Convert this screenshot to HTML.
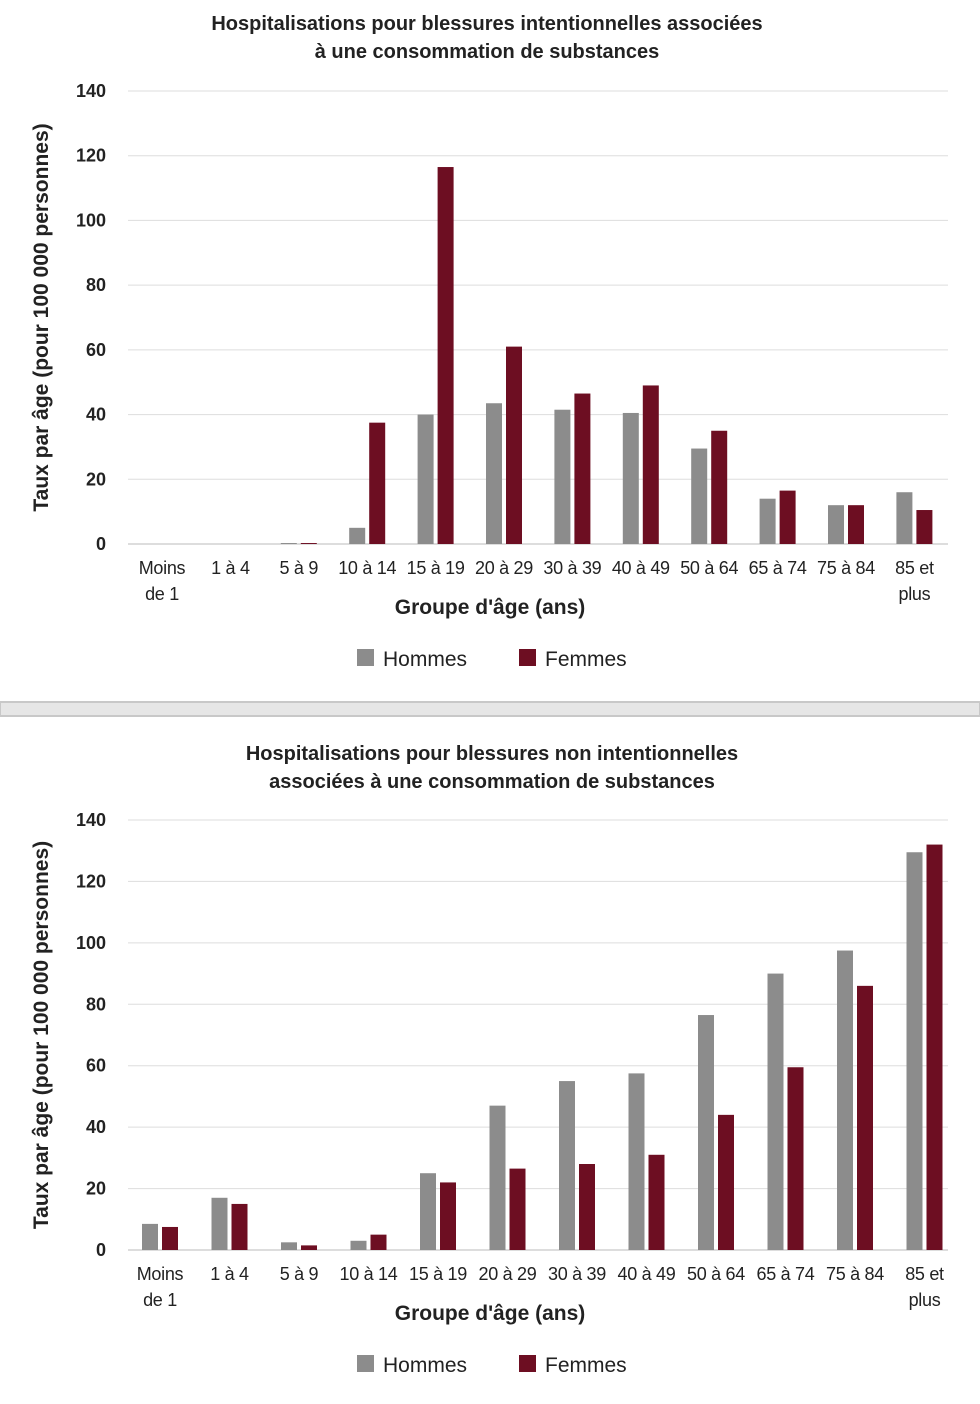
<!DOCTYPE html>
<html><head><meta charset="utf-8"><style>
body{margin:0;background:#fff;width:980px;height:1399px;overflow:hidden;font-family:"Liberation Sans Narrow","Liberation Sans",sans-serif}
svg text{font-family:"Liberation Sans Narrow","Liberation Sans",sans-serif;fill:#222}
</style></head><body>
<svg id="s" width="980" height="1399"></svg>
<script>
const categories=[["Moins","de 1"],["1 à 4"],["5 à 9"],["10 à 14"],["15 à 19"],["20 à 29"],["30 à 39"],["40 à 49"],["50 à 64"],["65 à 74"],["75 à 84"],["85 et","plus"]];
const ticks=[0,20,40,60,80,100,120,140];
const hommes1=[0,0,0.3,5,40,43.5,41.5,40.5,29.5,14,12,16];
const femmes1=[0,0,0.3,37.5,116.5,61,46.5,49,35,16.5,12,10.5];
const hommes2=[8.5,17,2.5,3,25,47,55,57.5,76.5,90,97.5,129.5];
const femmes2=[7.5,15,1.5,5,22,26.5,28,31,44,59.5,86,132];
const NS="http://www.w3.org/2000/svg";
const svg=document.getElementById('s');
function el(t,a,txt){const e=document.createElementNS(NS,t);for(const k in a)e.setAttribute(k,a[k]);if(txt!=null)e.textContent=txt;svg.appendChild(e);return e;}
function chart(cfg,hom,fem,prefix){
  const y=v=>cfg.y0-(v/140)*(cfg.y0-cfg.y140);
  const x=i=>cfg.c0+i*cfg.step;
  cfg.title.forEach((t,i)=>{const e=el('text',{x:cfg.tx,y:cfg.ty+i*28,'text-anchor':'middle','font-size':20,'font-weight':'bold'},t);
    });
  ticks.forEach(t=>{const g=el('line',{x1:128,x2:948,y1:y(t),y2:y(t),stroke:t===0?'#bbb':'#ddd','stroke-width':1});
    
    const l=el('text',{x:106,y:y(t)+6,'text-anchor':'end','font-size':18,'font-weight':'bold'},t);
    });
  const yt=el('text',{transform:`translate(48,${(cfg.y0+cfg.y140)/2}) rotate(-90)`,'text-anchor':'middle','font-size':21,'font-weight':'bold'},'Taux par âge (pour 100 000 personnes)');
  
  categories.forEach((c,i)=>{
    const b1=el('rect',{x:x(i)-18,y:y(hom[i]),width:16,height:y(0)-y(hom[i]),fill:'#8c8c8c'});
    
    const b2=el('rect',{x:x(i)+2,y:y(fem[i]),width:16,height:y(0)-y(fem[i]),fill:'#6d0e22'});
    
    c.forEach((ln,j)=>{const t=el('text',{x:x(i),y:y(0)+30+j*26,'text-anchor':'middle','font-size':18,'letter-spacing':'-0.3'},ln);
      });
  });
  const xt=el('text',{x:490,y:y(0)+70,'text-anchor':'middle','font-size':21,'font-weight':'bold'},"Groupe d'âge (ans)");
  
  const ly=cfg.ly;
  const r1=el('rect',{x:357,y:ly-9,width:17,height:17,fill:'#8c8c8c'});
  const t1=el('text',{x:383,y:ly+8,'font-size':21},'Hommes');
  const r2=el('rect',{x:519,y:ly-9,width:17,height:17,fill:'#6d0e22'});
  const t2=el('text',{x:545,y:ly+8,'font-size':21},'Femmes');
}
chart({title:['Hospitalisations pour blessures intentionnelles associées','à une consommation de substances'],tx:487,ty:30,y0:544,y140:91,c0:162,step:68.4,ly:658},hommes1,femmes1,'chart1');
const sep=el('rect',{x:0,y:702,width:980,height:14,fill:'#e6e6e6',stroke:'#c8c8c8','stroke-width':2});

chart({title:['Hospitalisations pour blessures non intentionnelles','associées à une consommation de substances'],tx:492,ty:760,y0:1250,y140:820,c0:160,step:69.5,ly:1364},hommes2,femmes2,'chart2');
</script></body></html>
